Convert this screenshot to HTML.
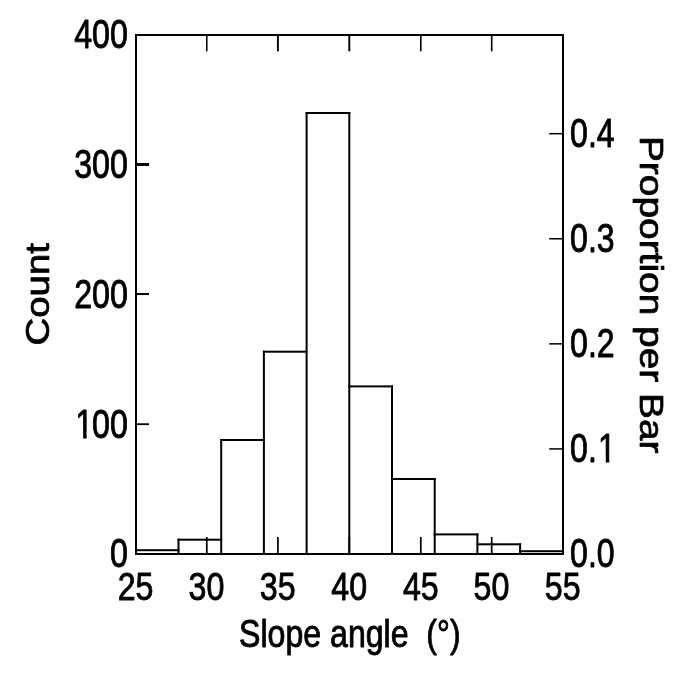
<!DOCTYPE html>
<html><head><meta charset="utf-8"><title>Histogram</title>
<style>
html,body{margin:0;padding:0;background:#fff;}
svg{display:block;will-change:transform;}
text{font-family:"Liberation Sans",sans-serif;font-size:40px;fill:#000;stroke:#000;stroke-width:0.9px;stroke-linejoin:round;white-space:pre;}
rect{fill:#000;}
rect.m{fill:#fff;}
</style></head><body>
<svg width="679" height="680" viewBox="0 0 679 680">
<rect x="0" y="0" width="679" height="680" style="fill:#fff"/>
<rect x="135.00" y="34.00" width="2.00" height="521.00"/>
<rect x="562.00" y="34.00" width="2.00" height="521.00"/>
<rect x="135.00" y="34.00" width="429.00" height="2.00"/>
<rect x="135.00" y="553.00" width="429.00" height="2.00"/>
<rect x="135.00" y="549.20" width="44.50" height="2.00"/>
<rect x="177.50" y="538.70" width="44.70" height="2.00"/>
<rect x="220.20" y="439.00" width="44.70" height="2.00"/>
<rect x="262.90" y="350.70" width="44.70" height="2.00"/>
<rect x="305.60" y="112.00" width="44.70" height="2.00"/>
<rect x="348.30" y="385.40" width="44.70" height="2.00"/>
<rect x="391.00" y="478.00" width="44.70" height="2.00"/>
<rect x="433.70" y="533.40" width="44.70" height="2.00"/>
<rect x="476.40" y="543.30" width="44.70" height="2.00"/>
<rect x="519.10" y="550.20" width="44.90" height="2.00"/>
<rect x="177.50" y="538.70" width="2.00" height="15.30"/>
<rect x="220.20" y="439.00" width="2.00" height="115.00"/>
<rect x="262.90" y="350.70" width="2.00" height="203.30"/>
<rect x="305.60" y="112.00" width="2.00" height="442.00"/>
<rect x="348.30" y="112.00" width="2.00" height="442.00"/>
<rect x="391.00" y="385.40" width="2.00" height="168.60"/>
<rect x="433.70" y="478.00" width="2.00" height="76.00"/>
<rect x="476.40" y="533.40" width="2.00" height="20.60"/>
<rect x="519.10" y="543.30" width="2.00" height="10.70"/>
<rect x="206.05" y="35.00" width="1.50" height="16.30"/>
<rect x="205.95" y="537.00" width="1.70" height="17.00"/>
<rect x="276.95" y="35.00" width="1.90" height="16.30"/>
<rect x="277.05" y="537.00" width="1.70" height="17.00"/>
<rect x="348.35" y="35.00" width="1.90" height="16.30"/>
<rect x="348.45" y="537.00" width="1.70" height="17.00"/>
<rect x="420.00" y="35.00" width="1.60" height="16.30"/>
<rect x="419.95" y="537.00" width="1.70" height="17.00"/>
<rect x="490.90" y="35.00" width="1.60" height="16.30"/>
<rect x="490.85" y="537.00" width="1.70" height="17.00"/>
<rect x="136.00" y="163.00" width="13.00" height="3.00"/>
<rect x="136.00" y="293.00" width="13.00" height="2.00"/>
<rect x="136.00" y="423.30" width="13.00" height="1.80"/>
<rect x="549.20" y="448.17" width="13.80" height="1.50"/>
<rect x="549.20" y="343.09" width="13.80" height="1.50"/>
<rect x="549.20" y="238.01" width="13.80" height="1.50"/>
<rect x="549.20" y="132.93" width="13.80" height="1.50"/>
<text xml:space="preserve" transform="matrix(0.8050 0 0 1.0335 74.17 48.03)">400</text>
<text xml:space="preserve" transform="matrix(0.8050 0 0 1.0335 74.17 178.08)">300</text>
<text xml:space="preserve" transform="matrix(0.8050 0 0 1.0335 74.17 307.98)">200</text>
<g transform="matrix(0.8050 0 0 1.0335 74.17 437.78)"><text xml:space="preserve"><tspan dx="1.5">1</tspan><tspan dx="-1.5">00</tspan></text><rect class="m" x="2.50" y="-4.2" width="8.61" height="5.4"/><rect class="m" x="15.54" y="-4.2" width="8.36" height="5.4"/></g>
<text xml:space="preserve" transform="matrix(0.8050 0 0 1.0096 109.99 567.35)">0</text>
<text xml:space="preserve" transform="matrix(0.8050 0 0 0.9925 117.66 600.27)">25</text>
<text xml:space="preserve" transform="matrix(0.8050 0 0 0.9925 188.61 600.27)">30</text>
<text xml:space="preserve" transform="matrix(0.8050 0 0 0.9925 259.75 600.27)">35</text>
<text xml:space="preserve" transform="matrix(0.8050 0 0 0.9925 331.35 600.27)">40</text>
<text xml:space="preserve" transform="matrix(0.8050 0 0 0.9925 402.90 600.27)">45</text>
<text xml:space="preserve" transform="matrix(0.8050 0 0 0.9925 473.48 600.27)">50</text>
<text xml:space="preserve" transform="matrix(0.8050 0 0 0.9925 544.82 600.27)">55</text>
<text xml:space="preserve" transform="matrix(0.8010 0 0 1.0130 570.11 567.15)">0.0</text>
<g transform="matrix(0.8010 0 0 1.0010 570.11 462.11)"><text xml:space="preserve">0.<tspan dx="1.5">1</tspan></text><rect class="m" x="35.86" y="-4.2" width="8.61" height="5.4"/><rect class="m" x="48.90" y="-4.2" width="8.36" height="5.4"/></g>
<text xml:space="preserve" transform="matrix(0.8010 0 0 1.0335 570.11 357.08)">0.2</text>
<text xml:space="preserve" transform="matrix(0.8010 0 0 1.0335 570.11 252.08)">0.3</text>
<text xml:space="preserve" transform="matrix(0.8010 0 0 1.0369 570.11 146.83)">0.4</text>
<text xml:space="preserve" transform="matrix(0.8022 0 0 0.9794 239.10 647.23)">Slope angle  (°)</text>
<text transform="matrix(0 -0.9600 0.8351 0 48.80 345.52)">Count</text>
<text transform="matrix(0 0.9716 -0.8223 0 640.10 135.95)">Proportion per Bar</text>
</svg>
</body></html>
